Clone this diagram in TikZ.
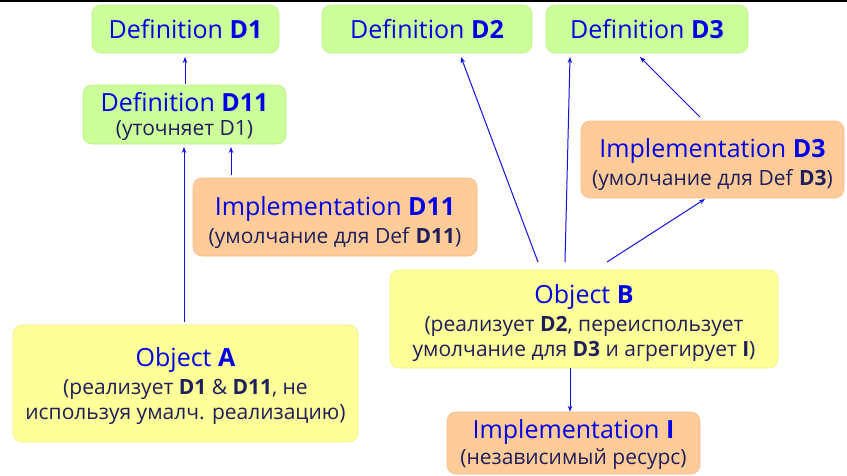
\documentclass[tikz,border=0pt]{standalone}
\usepackage{fontspec}
\setmainfont{Open Sans}
\usetikzlibrary{arrows.meta}
\definecolor{defgreen}{HTML}{CCFF99}
\definecolor{defgreenline}{HTML}{BBEE88}
\definecolor{implorange}{HTML}{FFCC99}
\definecolor{implorangeline}{HTML}{F0BB88}
\definecolor{objyellow}{HTML}{FFFF99}
\definecolor{objyellowline}{HTML}{F0F088}
\definecolor{titleblue}{HTML}{0000E8}
\definecolor{notenavy}{HTML}{1E1E5A}
\definecolor{linkblue}{HTML}{1010E0}
\tikzset{
  box/.style={rounded corners=9pt, inner sep=0pt, line width=0.6pt},
  defbox/.style={box, fill=defgreen, draw=defgreenline},
  implbox/.style={box, fill=implorange, draw=implorangeline},
  objbox/.style={box, fill=objyellow, draw=objyellowline},
  txt/.style={inner sep=0pt, align=center, font=\fontsize{21}{25}\selectfont, text=notenavy},
  link/.style={draw=linkblue, line width=1pt, -{Stealth[length=6pt,width=4.5pt]}},
}
\newcommand{\ttl}[1]{{\fontsize{25}{25}\selectfont\color{titleblue}#1}}
\begin{document}
\begin{tikzpicture}[x=1pt,y=-1pt]
  \useasboundingbox (0,0) rectangle (847,475);
  \fill[white] (0,0) rectangle (847,475);
  \draw[black, line width=1.5pt] (0,0.75) -- (847,0.75);

  % definitions
  \node[defbox, minimum width=187pt, minimum height=48pt] (d1) at (185.5,29) {};
  \node[txt] (d1t) at (d1.center) {\ttl{Definition \textbf{D1}}};
  \node[defbox, minimum width=210pt, minimum height=48pt] (d2) at (427,29) {};
  \node[txt] (d2t) at (d2.center) {\ttl{Definition \textbf{D2}}};
  \node[defbox, minimum width=202pt, minimum height=48pt] (d3) at (647,29) {};
  \node[txt] (d3t) at (d3.center) {\ttl{Definition \textbf{D3}}};
  \node[defbox, minimum width=203pt, minimum height=59pt] (d11) at (184.5,114.5) {};
  \node[txt] (d11t) at ([yshift=-2pt]d11.center) {\ttl{Definition \textbf{D11}}\\[-1pt](уточняет D1)};

  % implementations
  \node[implbox, minimum width=284pt, minimum height=78pt] (i11) at (335,217) {};
  \node[txt] (i11t) at ([yshift=-6pt]i11.center) {\ttl{Implementation \textbf{D11}}\\[3pt](умолчание для Def \textbf{D11})};
  \node[implbox, minimum width=263pt, minimum height=77pt] (i3) at (712.5,159.5) {};
  \node[txt] (i3t) at ([yshift=-5pt]i3.center) {\ttl{Implementation \textbf{D3}}\\[3pt](умолчание для Def \textbf{D3})};
  \node[implbox, minimum width=253pt, minimum height=62pt] (ii) at (573.5,443) {};
  \node[txt] (iit) at ([yshift=-2pt]ii.center) {\ttl{Implementation \textbf{I}}\\[1pt](независимый ресурс)};

  % objects
  \node[objbox, minimum width=345pt, minimum height=117pt] (oa) at (185.5,383.5) {};
  \node[txt] (oat) at ([yshift=-3pt]oa.center)
    {\ttl{Object \textbf{A}}\\[3pt](реализует \textbf{D1} \& \textbf{D11}, не\\используя умалч. реализацию)};
  \node[objbox, minimum width=388pt, minimum height=98pt] (ob) at (584,319) {};
  \node[txt] (obt) at ([yshift=-4pt]ob.center)
    {\ttl{Object \textbf{B}}\\[3pt](реализует \textbf{D2}, переиспользует\\умолчание для \textbf{D3} и агрегирует \textbf{I})};

  % connectors
  \draw[link] (d11.north -| 185,0) ++(0,-1) -- (185,57);
  \draw[link] (oa.north -| 184,0) ++(0,-3) -- (184,147);
  \draw[link] (i11.north -| 231,0) ++(0,-3) -- (231,147);
  \coordinate (bd2) at (538,262);
  \coordinate (bd3) at (565,262);
  \coordinate (bi3) at (607,262);
  \draw[link] (bd2) -- (461,57);
  \draw[link] (bd3) -- (570,57);
  \draw[link] (bi3) -- (705,199);
  \coordinate (i3top) at (700,117);
  \draw[link] (i3top) -- (640,57);
  \draw[link] (ob.south -| 570,0) -- (ii.north -| 570,0);
\end{tikzpicture}
\end{document}
